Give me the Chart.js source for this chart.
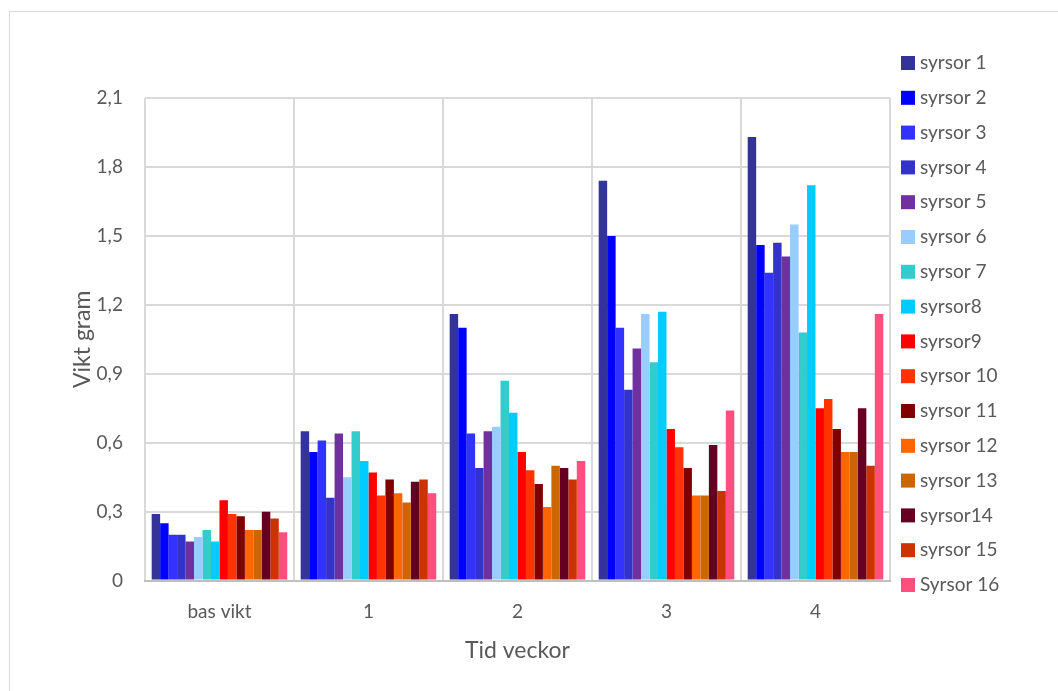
<!DOCTYPE html>
<html>
<head>
<meta charset="utf-8">
<script src="https://cdn.jsdelivr.net/npm/chart.js@4/dist/chart.umd.min.js"></script>
<style>
  html, body { margin: 0; padding: 0; background: #fff; }
  body { width: 1058px; height: 691px; position: relative; overflow: hidden; }
  #frame {
    position: absolute; left: 9px; top: 11px; width: 1060px; height: 700px;
    border: 1px solid #d9d9d9; box-sizing: border-box;
  }
  #wrap { position: absolute; left: 10px; top: 12px; width: 1048px; height: 679px; }
</style>
</head>
<body>
<div id="frame"></div>
<div id="wrap"><canvas id="c"></canvas></div>
<script>
// Weeks on the x axis
const categories = ['bas vikt', '1', '2', '3', '4'];

// Weight in grams of each cricket, per week
const syrsor1  = [0.29, 0.65, 1.16, 1.74, 1.93];
const syrsor2  = [0.25, 0.56, 1.10, 1.50, 1.46];
const syrsor3  = [0.20, 0.61, 0.64, 1.10, 1.34];
const syrsor4  = [0.20, 0.36, 0.49, 0.83, 1.47];
const syrsor5  = [0.17, 0.64, 0.65, 1.01, 1.41];
const syrsor6  = [0.19, 0.45, 0.67, 1.16, 1.55];
const syrsor7  = [0.22, 0.65, 0.87, 0.95, 1.08];
const syrsor8  = [0.17, 0.52, 0.73, 1.17, 1.72];
const syrsor9  = [0.35, 0.47, 0.56, 0.66, 0.75];
const syrsor10 = [0.29, 0.37, 0.48, 0.58, 0.79];
const syrsor11 = [0.28, 0.44, 0.42, 0.49, 0.66];
const syrsor12 = [0.22, 0.38, 0.32, 0.37, 0.56];
const syrsor13 = [0.22, 0.34, 0.50, 0.37, 0.56];
const syrsor14 = [0.30, 0.43, 0.49, 0.59, 0.75];
const syrsor15 = [0.27, 0.44, 0.44, 0.39, 0.50];
const syrsor16 = [0.21, 0.38, 0.52, 0.74, 1.16];

const seriesLabels = ['syrsor 1', 'syrsor 2', 'syrsor 3', 'syrsor 4', 'syrsor 5', 'syrsor 6',
  'syrsor 7', 'syrsor8', 'syrsor9', 'syrsor 10', 'syrsor 11', 'syrsor 12', 'syrsor 13',
  'syrsor14', 'syrsor 15', 'Syrsor 16'];
const seriesValues = [syrsor1, syrsor2, syrsor3, syrsor4, syrsor5, syrsor6, syrsor7, syrsor8,
  syrsor9, syrsor10, syrsor11, syrsor12, syrsor13, syrsor14, syrsor15, syrsor16];
const seriesColors = ['#333399', '#0000FF', '#3333FF', '#3333CC', '#7030A0', '#99CCFF',
  '#33CCCC', '#00CCFF', '#FF0000', '#FF3300', '#800000', '#FF6600', '#CC6600',
  '#660022', '#CC3300', '#FF4F7F'];

// Y axis range and step
const yMin = 0, yMax = 2.1, yStep = 0.3;

const FONT = 'Lato, "Open Sans", sans-serif';
const TEXT = '#595959';

// Vertical legend to the right of the plot, one row per dataset
const sideLegend = {
  id: 'sideLegend',
  afterDraw(chart) {
    const ctx = chart.ctx;
    const area = chart.chartArea;
    const x0 = area.right + 11;
    const rowH = 34.8;
    const y0 = 51;
    ctx.save();
    ctx.font = '19px ' + FONT;
    ctx.textBaseline = 'middle';
    ctx.textAlign = 'left';
    chart.data.datasets.forEach((ds, i) => {
      const y = y0 + i * rowH;
      ctx.fillStyle = ds.backgroundColor;
      ctx.fillRect(x0, y - 7, 14, 14);
      ctx.fillStyle = TEXT;
      ctx.fillText(ds.label, x0 + 19, y);
    });
    ctx.restore();
  }
};

new Chart(document.getElementById('c'), {
  type: 'bar',
  data: {
    labels: categories,
    datasets: seriesValues.map((vals, i) => ({
      label: seriesLabels[i],
      data: vals,
      backgroundColor: seriesColors[i],
      borderWidth: 0,
      categoryPercentage: 0.91,
      barPercentage: 1.0
    }))
  },
  plugins: [sideLegend],
  options: {
    responsive: true,
    maintainAspectRatio: false,
    animation: false,
    layout: { padding: { left: 46, right: 168, top: 86, bottom: 23 } },
    plugins: {
      tooltip: { enabled: false },
      legend: { display: false }
    },
    scales: {
      x: {
        grid: { color: '#d9d9d9', lineWidth: 2, offset: true, drawTicks: false },
        border: { color: '#bfbfbf', width: 2 },
        ticks: { color: TEXT, font: { family: FONT, size: 19 }, padding: 20 },
        title: { display: true, text: 'Tid veckor', color: TEXT,
                 font: { family: FONT, size: 23 }, padding: { top: -7 } }
      },
      y: {
        min: yMin, max: yMax,
        grid: { color: '#d9d9d9', lineWidth: 2, drawTicks: false },
        border: { display: false },
        ticks: {
          stepSize: yStep, color: TEXT, padding: 22,
          font: { family: FONT, size: 19 },
          callback: v => (Math.round(v * 10) / 10).toString().replace('.', ',')
        },
        title: { display: true, text: 'Vikt gram', color: TEXT,
                 font: { family: FONT, size: 23 }, padding: { top: 13, bottom: -22 } }
      }
    }
  }
});
</script>
</body>
</html>
